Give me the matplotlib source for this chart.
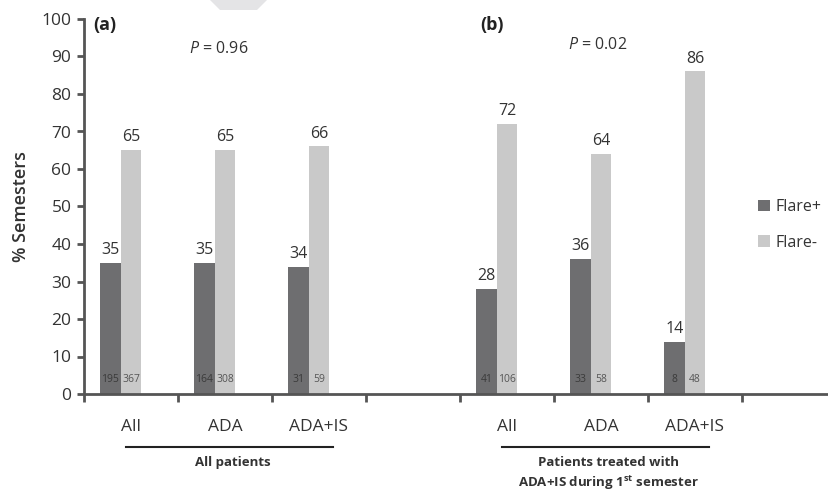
import numpy as np
import matplotlib.pyplot as plt
from matplotlib.patches import Polygon

plt.rcParams["font.family"] = ["Open Sans", "DejaVu Sans"]
plt.rcParams["mathtext.fontset"] = "custom"
plt.rcParams["mathtext.rm"] = "Open Sans"
plt.rcParams["mathtext.it"] = "Open Sans:italic"
plt.rcParams["mathtext.bf"] = "Open Sans:bold"

# data
categories = ["All", "ADA", "ADA+IS", "", "All", "ADA", "ADA+IS", ""]
flare_pos = [35, 35, 34, None, 28, 36, 14, None]
flare_neg = [65, 65, 66, None, 72, 64, 86, None]
n_pos = [195, 164, 31, None, 41, 33, 8, None]
n_neg = [367, 308, 59, None, 106, 58, 48, None]
group_labels = ["All patients", "Patients treated with\nADA+IS during 1$^{\\mathbf{st}}$ semester"]
p_values = ["0.96", "0.02"]
panel_tags = ["(a)", "(b)"]

dark = "#6e6e70"
light = "#c9c9c9"
txt = "#333333"
spine = "#555555"

W, H = 829, 494
fig = plt.figure(figsize=(W / 100, H / 100), dpi=100)
ax = fig.add_axes([84 / W, 100 / H, 752 / W, 375 / H])

bw = 0.22
for i, cat in enumerate(categories):
    if flare_pos[i] is None:
        continue
    ax.bar(i - bw, flare_pos[i], width=bw, color=dark, label="Flare+" if i == 0 else None)
    ax.bar(i, flare_neg[i], width=bw, color=light, label="Flare-" if i == 0 else None)
    ax.text(i - bw, flare_pos[i] + 1.3, str(flare_pos[i]), ha="center", va="bottom",
            fontsize=11.5, color=txt)
    ax.text(i, flare_neg[i] + 1.3, str(flare_neg[i]), ha="center", va="bottom",
            fontsize=11.5, color=txt)
    ax.text(i - bw, 4, str(n_pos[i]), ha="center", va="center", fontsize=7.5, color="#3a3a3a")
    ax.text(i, 4, str(n_neg[i]), ha="center", va="center", fontsize=7.5, color="#555555")

ax.set_xlim(-0.5, len(categories) - 0.5)
ax.set_ylim(0, 100)
ax.set_yticks(np.arange(0, 101, 10))
ax.set_xticks(np.arange(-0.5, len(categories), 1.0))
ax.set_xticklabels([])
ax.set_xticks(np.arange(len(categories)), minor=True)
ax.set_xticklabels(categories, minor=True)
ax.tick_params(axis="x", which="major", direction="out", length=6, width=2, color=spine)
ax.tick_params(axis="x", which="minor", length=0, pad=18, labelsize=12.5, labelcolor=txt)
ax.tick_params(axis="y", direction="out", length=5, width=2, color=spine,
               labelsize=12.5, labelcolor=txt, pad=4)
for s in ["top", "right"]:
    ax.spines[s].set_visible(False)
for s in ["left", "bottom"]:
    ax.spines[s].set_color(spine)
    ax.spines[s].set_linewidth(2)

ax.set_ylabel("% Semesters", fontsize=13, color=txt, fontweight="semibold", labelpad=8)

# group underlines and labels
trans = ax.get_xaxis_transform()
for g, start in enumerate([0, 4]):
    ax.plot([start - 0.05, start + 2.15], [-0.141, -0.141], transform=trans,
            color="#222222", lw=1.5, clip_on=False)
    ax.text(start + 1.08, -0.165, group_labels[g], transform=trans, ha="center", va="top",
            fontsize=9.5, fontweight="bold", color=txt, linespacing=1.35)

# panel tags and p values
ax.text(-0.4, 98.3, panel_tags[0], fontsize=13, fontweight="bold", va="center", color="#222222")
ax.text(3.72, 98.3, panel_tags[1], fontsize=13, fontweight="bold", va="center", color="#222222")
ax.text(0.93, 92, "$\\mathit{P}$ = " + p_values[0], fontsize=11.5, ha="center", va="center", color=txt)
ax.text(4.96, 93, "$\\mathit{P}$ = " + p_values[1], fontsize=11.5, ha="center", va="center", color=txt)

fig.legend(loc="center left", bbox_to_anchor=(744 / W, 1 - 225 / H), frameon=False,
           fontsize=11.5, handlelength=0.7, handleheight=0.7, handletextpad=0.4,
           labelspacing=1.2, labelcolor=txt)

# light grey mark at the top edge
fig.patches.append(Polygon([[210 / W, 1], [267 / W, 1], [257 / W, 1 - 10 / H], [220 / W, 1 - 10 / H]],
                           closed=True, transform=fig.transFigure, facecolor="#e4e4e6",
                           edgecolor="none"))

fig.savefig("out.png", dpi=100)
